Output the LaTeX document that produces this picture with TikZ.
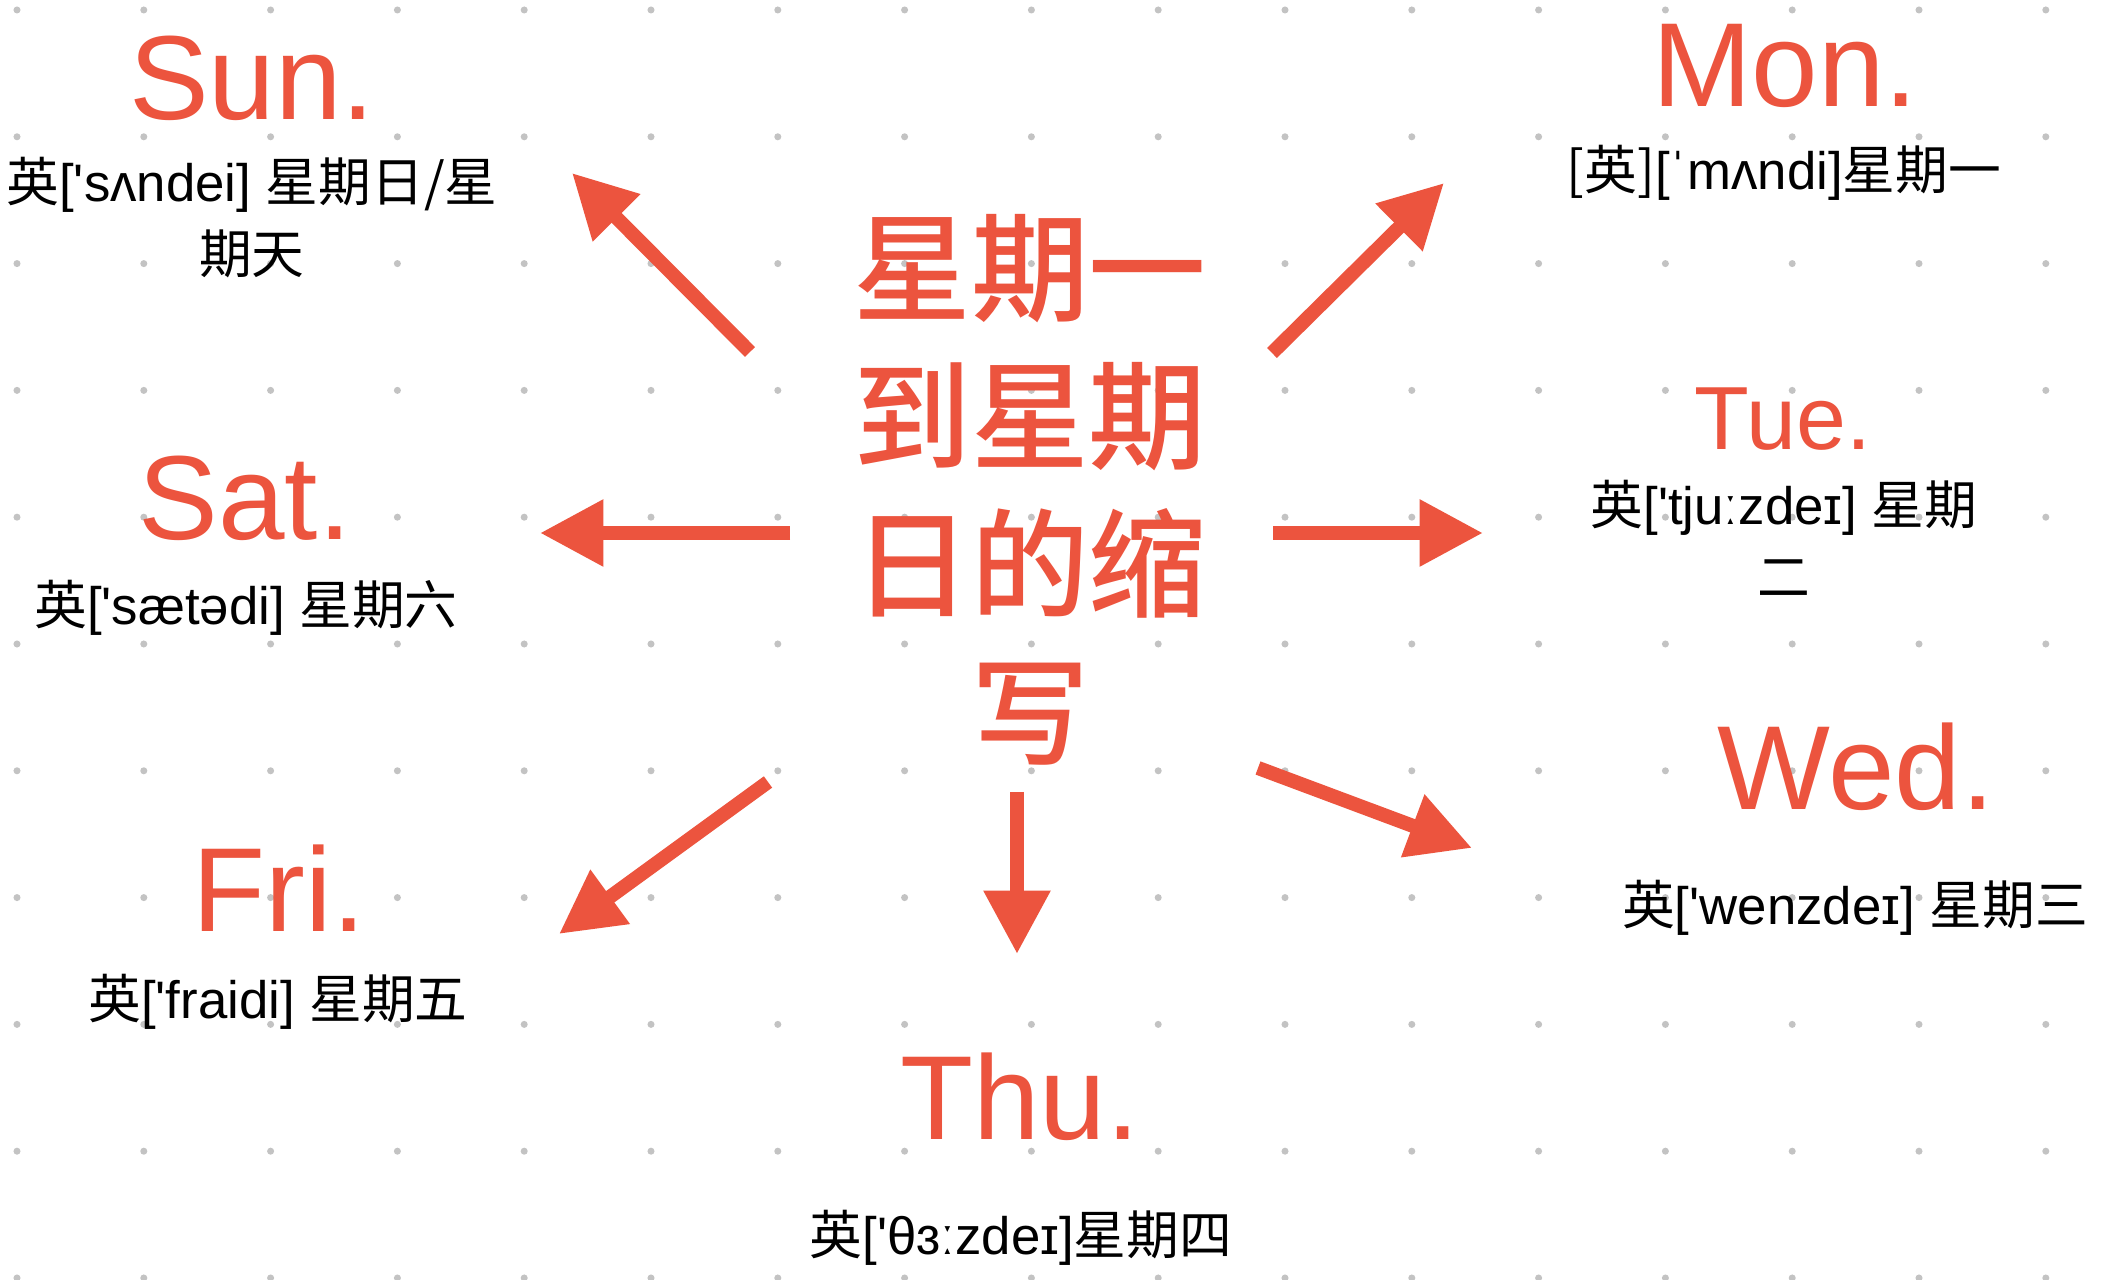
\documentclass[tikz,border=0pt]{standalone}
\usepackage{fontspec}
\setmainfont{Liberation Sans}
\newfontfamily\cjk{Noto Sans CJK SC}
\newfontfamily\cjkmid{Noto Sans CJK SC Medium}
\usetikzlibrary{arrows.meta}
\definecolor{dayred}{RGB}{236,84,62}
\definecolor{dotgray}{RGB}{195,195,195}
\tikzset{
  day/.style={anchor=base,text=dayred,font=\fontsize{34}{40}\selectfont,inner sep=0pt},
  smallday/.style={day,font=\fontsize{25.5}{30}\selectfont},
  phon/.style={anchor=base,align=center,inner sep=0pt,font=\fontsize{15}{20.5}\selectfont},
  abbr/.style={align=center,inner sep=0pt,text=dayred,font=\cjkmid\fontsize{33.5}{42.1}\selectfont},
  pointer/.style={draw=dayred,line width=4pt,-{Triangle[length=18pt,width=18pt]}}
}
\begin{document}
\begin{tikzpicture}[x=0.01cm,y=-0.01cm]
                \useasboundingbox[fill=white] (0,0) rectangle (2111,1280);
                \foreach \i in {0,...,16}{
                    \foreach \j in {0,...,10}{
                        \fill[dotgray] (17+126.8*\i,10+126.8*\j) circle (1pt);
                    }
                }
                \node[abbr] (title) at (1030,490) {星期一\\到星期\\日的缩\\写};
                \node[day] (sun) at (252,120) {Sun.};
                \node[phon] (sunp) at (252,274) {{\cjk 英}[\textquotesingle sʌndei] {\cjk 星期日/星}\\{\cjk 期天}};
                \node[day] (mon) at (1785,107) {Mon.};
                \node[phon] (monp) at (1784,190) {{\cjk [英]}[ˈmʌndi]{\cjk 星期一}};
                \node[smallday] (tue) at (1783,450) {Tue.};
                \node[phon] (tuep) at (1784,597) {{\cjk 英}[\textquotesingle tjuːzdeɪ] {\cjk 星期}\\{\cjk 二}};
                \node[day] (wed) at (1856,810) {Wed.};
                \node[phon] (wedp) at (1855,925) {{\cjk 英}[\textquotesingle wenzdeɪ] {\cjk 星期三}};
                \node[day] (thu) at (1020,1140) {Thu.};
                \node[phon] (thup) at (1021,1255) {{\cjk 英}[\textquotesingle θɜːzdeɪ]{\cjk 星期四}};
                \node[day] (fri) at (279,932) {Fri.};
                \node[phon] (frip) at (278,1019) {{\cjk 英}[\textquotesingle fraidi] {\cjk 星期五}};
                \node[day] (sat) at (245,540) {Sat.};
                \node[phon] (satp) at (246,625) {{\cjk 英}[\textquotesingle sætədi] {\cjk 星期六}};
                \foreach \n/\xa/\ya/\xb/\yb in {sun/750/352/572/173,mon/1272/353/1444/183,sat/790/533/540/533,tue/1273/533/1483/533,fri/768/782/559/934,thu/1017/792/1017/954,wed/1258/768/1472/848}{
                    \coordinate (\n-from) at (\xa,\ya);
                    \coordinate (\n-to) at (\xb,\yb);
                    \draw[pointer] (\n-from) -- (\n-to);
                }
\end{tikzpicture}
\end{document}
